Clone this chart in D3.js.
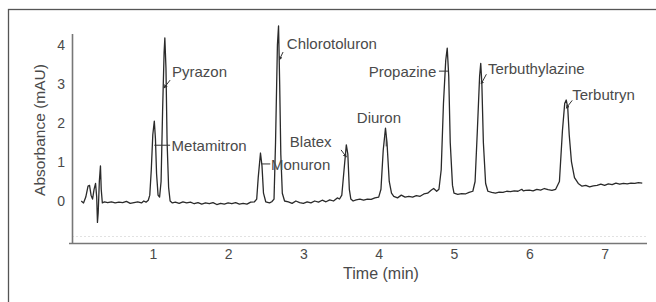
<!DOCTYPE html>
<html>
<head>
<meta charset="utf-8">
<script src="https://cdn.jsdelivr.net/npm/d3@7"></script>
<style>
  html, body { margin: 0; padding: 0; background: #fff; }
  svg { display: block; font-family: Arial, "Liberation Sans", Helvetica, sans-serif; }
</style>
</head>
<body>
<svg id="chart" width="656" height="302"></svg>
<script>
// ---- Data ----
const time = [
  0.05,0.08,0.11,0.14,0.16,0.18,0.20,0.22,0.24,0.255,0.265,0.275,0.29,0.305,0.315,0.33,0.36,
  0.40,0.45,0.50,0.55,0.60,0.65,0.70,0.75,0.80,0.85,0.88,0.91,0.94,
  0.96,0.98,1.00,1.02,1.035,1.05,1.07,1.09,1.11,1.13,1.15,1.16,1.175,1.19,1.21,1.23,
  1.26,1.30,1.35,1.40,1.45,1.50,1.55,1.60,1.65,1.70,1.75,1.80,1.85,1.90,1.95,2.00,
  2.05,2.10,2.15,2.20,2.25,2.30,2.35,2.38,2.40,2.43,2.45,2.47,2.50,2.55,2.58,2.61,
  2.63,2.655,2.67,2.685,2.70,2.72,2.75,2.80,2.85,2.90,2.95,3.00,3.05,3.10,3.15,3.20,
  3.25,3.30,3.35,3.40,3.45,3.48,3.51,3.54,3.57,3.59,3.61,3.63,3.66,3.70,3.75,3.80,
  3.85,3.90,3.95,4.00,4.03,4.06,4.09,4.11,4.14,4.17,4.20,4.25,4.30,4.35,4.40,4.45,
  4.50,4.55,4.60,4.65,4.70,4.73,4.77,4.80,4.83,4.86,4.89,4.91,4.93,4.95,4.98,5.00,
  5.05,5.10,5.15,5.20,5.25,5.28,5.31,5.34,5.355,5.37,5.39,5.42,5.45,5.50,5.55,5.60,
  5.65,5.70,5.75,5.80,5.85,5.90,5.92,5.95,6.00,6.05,6.10,6.15,6.20,6.25,6.30,6.35,
  6.40,6.44,6.47,6.49,6.51,6.53,6.56,6.60,6.65,6.70,6.75,6.80,6.85,6.90,6.95,7.00,
  7.05,7.10,7.15,7.20,7.25,7.30,7.35,7.40,7.45,7.50
];
const absorbance = [
  0.00,-0.05,0.10,0.38,0.40,0.15,0.05,0.30,0.45,0.10,-0.55,-0.30,0.50,0.90,0.30,-0.05,-0.02,
  -0.04,-0.02,-0.05,-0.03,-0.04,-0.01,-0.06,-0.04,-0.02,-0.05,0.00,-0.03,0.02,
  0.15,0.80,1.70,2.05,1.60,0.70,0.15,0.10,0.50,2.30,3.80,4.18,3.40,1.50,0.35,0.00,
  -0.05,-0.03,-0.06,-0.02,-0.05,-0.03,-0.07,-0.04,-0.08,-0.05,-0.07,-0.04,-0.09,-0.06,-0.08,-0.05,
  -0.07,-0.04,-0.08,-0.06,-0.08,-0.03,-0.02,0.05,0.60,1.23,0.90,0.20,-0.02,-0.05,-0.02,0.05,
  1.50,4.00,4.49,3.00,1.20,0.20,0.00,-0.02,-0.06,0.00,-0.04,-0.06,-0.02,-0.05,0.00,-0.03,
  0.02,-0.02,0.03,0.00,0.08,0.05,0.15,0.80,1.44,1.20,0.30,0.05,0.00,0.03,0.05,0.02,
  0.05,0.04,0.08,0.10,0.30,1.30,1.87,1.50,0.50,0.20,0.12,0.08,0.15,0.10,0.12,0.10,
  0.14,0.12,0.18,0.20,0.28,0.32,0.25,0.30,0.80,2.50,3.60,3.92,3.20,1.50,0.40,0.20,
  0.17,0.19,0.18,0.22,0.25,0.50,1.80,3.20,3.53,3.00,1.50,0.45,0.25,0.22,0.20,0.23,
  0.22,0.25,0.24,0.26,0.25,0.30,0.26,0.27,0.28,0.26,0.30,0.28,0.32,0.29,0.27,0.30,
  0.50,1.80,2.50,2.59,2.40,1.70,1.00,0.60,0.45,0.38,0.40,0.36,0.39,0.40,0.43,0.40,
  0.44,0.42,0.46,0.43,0.45,0.44,0.46,0.45,0.47,0.46
];
const xTicks = [1, 2, 3, 4, 5, 6, 7];
const yTicks = [0, 1, 2, 3, 4];
const xTitle = "Time (min)";
const yTitle = "Absorbance (mAU)";

// Peak annotations (data coordinates): name, label anchor, leader start -> end
const peakNames  = ["Metamitron","Pyrazon","Monuron","Chlorotoluron","Blatex","Diuron","Propazine","Terbuthylazine","Terbutryn"];
const labelT     = [1.25, 1.255, 2.57, 2.78, 2.82, 3.71, 4.765, 5.45, 6.57];
const labelV     = [1.41, 3.31, 0.92, 4.03, 1.51, 2.13, 3.31, 3.38, 2.72];
const labelEnd   = [false, false, false, false, false, false, true, false, false];
const leaderT0   = [1.23, 1.23, 2.56, 2.73, 3.50, 4.10, 4.80, 5.43, 6.57];
const leaderV0   = [1.43, 3.10, 0.95, 3.82, 1.31, 1.66, 3.33, 3.25, 2.58];
const leaderT1   = [1.02, 1.15, 2.45, 2.68, 3.57, 4.10, 4.92, 5.36, 6.49];
const leaderV1   = [1.43, 2.90, 0.95, 3.62, 1.13, 1.40, 3.33, 3.00, 2.38];
const arrowHead  = [false, true, false, true, true, false, false, true, true];

// ---- Drawing ----
const svg = d3.select("#chart");
const x = d3.scaleLinear().domain([-0.073, 7.563]).range([72, 647]);
const y = d3.scaleLinear().domain([-1.077, 4.282]).range([243, 34]);

// outer frame
svg.append("rect").attr("x", 8.5).attr("y", 9.5).attr("width", 660).attr("height", 300)
  .attr("fill", "none").attr("stroke", "#555").attr("stroke-width", 1.3);

const textCol = "#4a4a4a";

// faint dotted line above x axis
svg.append("line").attr("x1", 72).attr("x2", 647).attr("y1", 236.5).attr("y2", 236.5)
  .attr("stroke", "#e2e2e2").attr("stroke-dasharray", "2,2");

// axes
const xAxis = d3.axisBottom(x).tickValues(xTicks).tickSize(0).tickPadding(6).tickFormat(d3.format("d"));
const gx = svg.append("g").attr("transform", `translate(0,${y.range()[0]})`).call(xAxis);
gx.select(".domain").remove();
gx.selectAll("text").attr("fill", textCol).style("font-size", "14px");
svg.append("line").attr("x1", 69).attr("x2", 647).attr("y1", 243.5).attr("y2", 243.5)
  .attr("stroke", "#777").attr("stroke-width", 1.6);

const yAxis = d3.axisLeft(y).tickValues(yTicks).tickSize(0).tickPadding(7).tickFormat(d3.format("d"));
const gy = svg.append("g").attr("transform", `translate(${x.range()[0]},0)`).call(yAxis);
gy.select(".domain").remove();
gy.selectAll("text").attr("fill", textCol).style("font-size", "14px");
svg.append("line").attr("x1", 72.5).attr("x2", 72.5).attr("y1", 34).attr("y2", 244)
  .attr("stroke", "#777").attr("stroke-width", 1.6);

// axis titles
svg.append("text").attr("x", 381).attr("y", 279).attr("text-anchor", "middle")
  .attr("fill", textCol).style("font-size", "16px").text(xTitle);
svg.append("text").attr("transform", "translate(45,130) rotate(-90)").attr("text-anchor", "middle")
  .attr("fill", textCol).style("font-size", "15.5px").text(yTitle);

// trace
const pts = time.map((t, i) => [t, absorbance[i]]);
svg.append("path").datum(pts)
  .attr("fill", "none").attr("stroke", "#2a2a2a").attr("stroke-width", 1.3)
  .attr("stroke-linejoin", "round")
  .attr("d", d3.line().x(d => x(d[0])).y(d => y(d[1])));

// arrow marker
svg.append("defs").append("marker").attr("id", "arr")
  .attr("viewBox", "0 0 6 6").attr("refX", 5).attr("refY", 3)
  .attr("markerWidth", 4).attr("markerHeight", 4).attr("orient", "auto")
  .append("path").attr("d", "M0,0 L6,3 L0,6 Z").attr("fill", "#333");

// leaders & labels
peakNames.forEach((name, i) => {
  const ln = svg.append("line")
    .attr("x1", x(leaderT0[i])).attr("y1", y(leaderV0[i]))
    .attr("x2", x(leaderT1[i])).attr("y2", y(leaderV1[i]))
    .attr("stroke", "#333").attr("stroke-width", 1);
  if (arrowHead[i]) ln.attr("marker-end", "url(#arr)");
  svg.append("text").attr("x", x(labelT[i])).attr("y", y(labelV[i]))
    .attr("dy", "0.35em").attr("text-anchor", labelEnd[i] ? "end" : "start")
    .attr("fill", textCol).style("font-size", "15px").text(name);
});
</script>
</body>
</html>
